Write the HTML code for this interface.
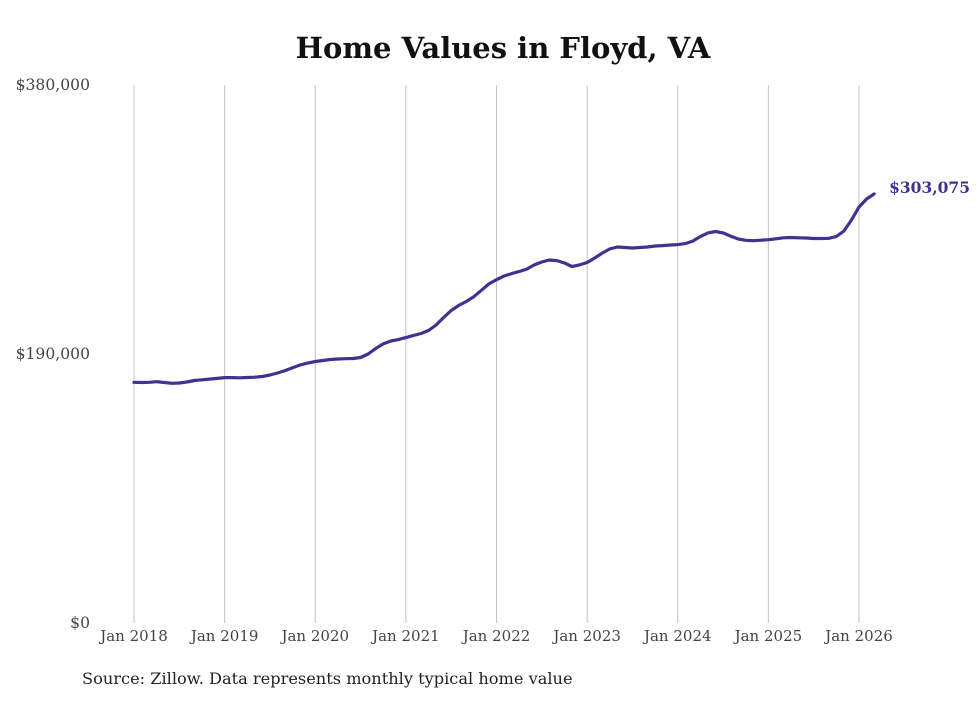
<!DOCTYPE html>
<html><head><meta charset="utf-8"><style>
body{margin:0;background:#fff;}
svg text{font-family:"DejaVu Serif","Liberation Serif",serif;}
</style></head><body>
<svg id="chart" width="980" height="699" viewBox="0 0 980 699">
<text x="503" y="58" text-anchor="middle" font-size="29" font-weight="bold" fill="#111">Home Values in Floyd, VA</text>
<g id="grid"></g><g id="yaxis"></g><g id="xaxis"></g><g id="series"></g>
<text x="82" y="684" font-size="16.2" fill="#222">Source: Zillow. Data represents monthly typical home value</text>
</svg>
<script>
const yTicks=[0,190000,380000];
const yTickLabels=["$0","$190,000","$380,000"];
const xYears=[2018,2019,2020,2021,2022,2023,2024,2025,2026];
const xTickLabels=["Jan 2018","Jan 2019","Jan 2020","Jan 2021","Jan 2022","Jan 2023","Jan 2024","Jan 2025","Jan 2026"];
const startYear=2018;
const values=[
170000,169900,170000,170400,169900,169300,169500,170200,171300,171800,172300,172800,
173300,173300,173200,173400,173600,174100,175200,176600,178300,180300,182200,183600,
184700,185400,186100,186500,186700,186800,187500,190000,193900,197100,199200,200200,
201600,203100,204500,206600,210500,215800,220700,224300,227100,230500,235000,239500,
242500,245100,246800,248300,250000,252900,255000,256400,256000,254300,251800,252900,
254600,257800,261300,264200,265600,265200,264900,265200,265600,266300,266600,267000,
267300,268000,269800,273000,275500,276500,275500,273300,271200,270300,270000,270400,
270700,271400,272100,272300,272100,271900,271600,271600,271700,273000,276900,284600,
293800,299500,303075];
const lastLabel="$303,075";
const NS="http://www.w3.org/2000/svg";
const X0=134,X1=859,Y0=623,Y1=85;
const x=m=>X0+(X1-X0)*m/((xYears[xYears.length-1]-startYear)*12);
const y=v=>Y0-(Y0-Y1)*v/380000;
function mk(t,a,p){const e=document.createElementNS(NS,t);for(const k in a)e.setAttribute(k,a[k]);p.appendChild(e);return e;}
const grid=document.getElementById('grid'),xa=document.getElementById('xaxis'),ya=document.getElementById('yaxis'),se=document.getElementById('series');
xYears.forEach((yr,i)=>{
 const xx=x((yr-startYear)*12);
 const l=mk('line',{x1:xx,x2:xx,y1:Y1,y2:Y0,stroke:'#c4c4c4','stroke-width':1},grid);
 
 
 const t=mk('text',{x:xx,y:641,'text-anchor':'middle','font-size':15,fill:'#444'},xa);
 t.textContent=xTickLabels[i];
 
 
});
yTicks.forEach((v,i)=>{
 const t=mk('text',{x:90,y:y(v)+5,'text-anchor':'end','font-size':15.6,fill:'#444'},ya);
 t.textContent=yTickLabels[i];
 
 
});
let d='';
values.forEach((v,i)=>{d+=(i?'L':'M')+x(i).toFixed(1)+','+y(v).toFixed(1);});
const p=mk('path',{d:d,fill:'none',stroke:'#3d3391','stroke-width':3.2,'stroke-linejoin':'round','stroke-linecap':'round'},se);


const n=values.length-1;
const lt=mk('text',{x:x(n)+15,y:y(values[n])-1,'font-size':15.5,'font-weight':'bold',fill:'#3d3391'},se);
lt.textContent=lastLabel;


</script>
</body></html>
